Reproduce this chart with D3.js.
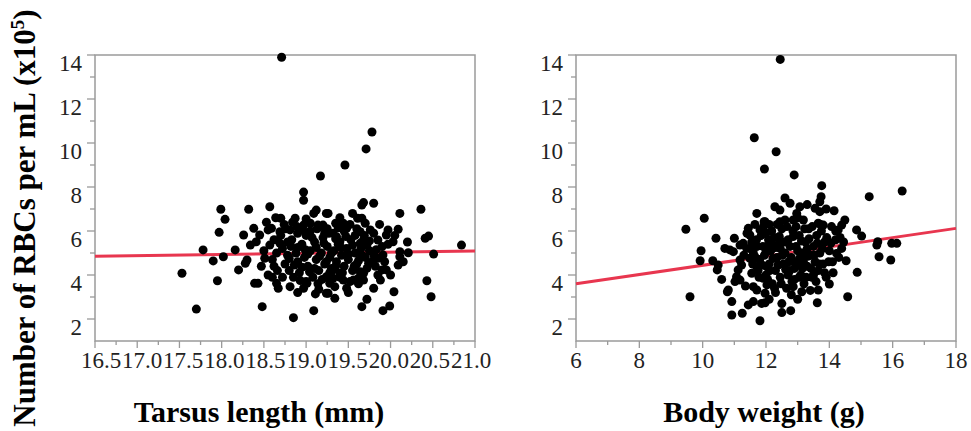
<!DOCTYPE html>
<html>
<head>
<meta charset="utf-8">
<script src="https://cdn.jsdelivr.net/npm/d3@7"></script>
<style>
  body { margin: 0; background: #fff; }
</style>
</head>
<body>
<div id="vis"></div>
<script>
// y axis shared by both panels
const yTicks = [2, 4, 6, 8, 10, 12, 14];
const yMinor = [3, 5, 7, 9, 11, 13];

// tarsus panel
const tarsusTicks = [16.5, 17.0, 17.5, 18.0, 18.5, 19.0, 19.5, 20.0, 20.5, 21.0];
const tarsusMinor = [16.75, 17.25, 17.75, 18.25, 18.75, 19.25, 19.75, 20.25, 20.75];
const tarsusFit = [[16.5, 4.85], [21.0, 5.09]];
const tarsusPts = [
  [17.99,6.99],[18.32,6.99],[18.57,7.10],[18.04,6.53],[17.97,5.94],[18.26,5.82],[18.38,6.12],[18.45,5.82],
  [18.55,6.05],[18.59,6.12],[18.34,5.36],[18.41,5.51],[18.57,5.36],[17.78,5.14],[18.16,5.14],[18.02,4.83],
  [17.90,4.64],[18.30,4.68],[18.28,4.53],[18.51,4.76],[18.20,4.23],[17.53,4.08],[17.95,3.74],[18.39,3.62],
  [18.43,3.62],[18.55,4.00],[18.65,3.62],[18.67,3.40],[17.70,2.45],[18.48,2.56],[18.85,2.06],[19.09,2.38],
  [19.11,3.14],[18.81,3.47],[18.97,3.40],[19.01,3.62],[19.24,3.17],
  [18.71,13.9],[19.78,10.5],[19.71,9.73],[19.46,9.0],[19.17,8.5],[18.97,7.77],[18.97,7.40],
  [18.70,6.58],[18.87,6.58],[19.12,6.95],[19.09,6.80],[19.24,6.80],[18.69,5.97],[18.81,6.05],[18.89,6.20],
  [18.97,6.27],[19.05,6.35],[19.14,6.27],[19.20,6.27],[18.69,5.44],
  [19.66,7.18],[19.68,7.29],[19.80,7.26],[19.26,6.80],[20.11,6.80],[20.36,6.99],[19.35,6.35],[19.44,6.35],
  [19.48,6.12],[19.61,6.58],[19.66,6.58],[19.70,6.35],[19.76,6.05],[19.80,5.90],[19.97,6.05],[19.95,5.82],
  [20.09,6.08],[20.41,5.67],[20.45,5.77],[20.84,5.36],[20.03,5.51],[19.20,6.20],[19.22,5.90],[19.32,5.90],
  [19.36,5.74],[19.40,5.51],[19.64,5.97],[19.68,5.59],[19.72,5.36],[19.64,5.44],[19.85,5.59],[19.90,5.29],
  [19.91,4.91],[19.80,4.91],[19.85,4.76],[20.11,5.06],[20.11,4.83],[20.09,4.45],[20.21,5.01],[20.51,4.95],
  [19.74,4.53],[19.90,4.23],[19.95,4.23],[19.85,4.00],[19.88,3.77],[19.56,3.77],[19.62,3.85],[19.68,4.08],
  [19.68,3.77],[19.64,4.15],[19.40,4.08],[19.44,3.77],[19.32,4.23],[19.24,3.92],[19.28,3.62],[19.34,3.47],
  [19.48,3.40],[20.43,3.74],[20.04,3.24],[19.26,3.17],[19.34,2.94],[19.72,2.90],[19.66,2.56],[19.99,2.59],
  [19.91,2.38],[20.48,3.01],
  [18.72,5.2],[18.78,4.9],[18.75,4.5],[18.8,4.2],[18.83,5.6],[18.88,5.0],[18.9,4.6],[18.92,4.1],
  [18.95,5.4],[18.98,4.8],[19.0,5.8],[19.02,4.4],[19.05,5.1],[19.08,3.9],[19.1,5.5],[19.12,4.7],
  [19.15,4.2],[19.18,5.0],[19.2,5.7],[19.22,4.5],[19.25,5.3],[19.28,4.8],[19.3,4.3],[19.33,5.1],
  [19.36,4.6],[19.38,5.4],[19.42,4.9],[19.45,4.4],[19.48,5.2],[19.5,4.7],[19.53,5.6],[19.55,4.2],
  [19.58,5.0],[19.6,4.5],[18.7,5.8],[18.76,6.1],[18.85,3.9],[18.9,5.9],[19.0,3.7],[19.05,6.0],
  [19.14,3.6],[19.25,6.1],[19.4,3.9],[19.45,6.0],[19.52,3.7],[18.62,4.4],[18.65,5.0],[18.6,4.7],
  [19.7,4.8],[19.75,5.1],[19.65,5.2],[19.82,4.4],[19.58,5.8],[18.82,5.3],[19.12,5.25],[19.35,5.65],
  [18.95,4.35],[19.62,4.65],[19.0,5.05],[19.28,4.1],
  [18.62,5.6],[18.66,4.2],[18.72,3.9],[18.74,6.3],[18.78,5.5],[18.8,4.75],[18.84,6.4],[18.86,4.45],
  [18.9,5.25],[18.93,3.75],[18.96,6.05],[18.99,5.15],[19.02,4.95],[19.04,4.15],[19.07,5.7],[19.1,4.3],
  [19.13,6.1],[19.16,4.85],[19.19,3.8],[19.21,5.45],[19.24,4.6],[19.27,5.9],[19.3,5.0],[19.32,3.85],
  [19.35,4.4],[19.38,6.15],[19.41,5.25],[19.43,4.1],[19.47,5.75],[19.5,4.95],[19.52,6.3],[19.55,5.35],
  [19.57,4.4],[19.6,6.1],[19.62,3.6],[19.66,4.9],[19.69,5.8],[19.72,4.3],[19.75,5.55],[19.78,4.6],
  [19.83,5.15],[19.87,6.3],[19.93,4.6],[19.97,5.4],[20.0,4.0],[20.05,5.8],[20.15,4.6],[20.2,5.5],
  [18.5,5.1],[18.47,4.4],[18.53,6.4],[18.6,3.9],[18.64,6.6],[19.0,6.55],[19.4,6.6],[19.55,6.8],
  [18.9,3.2],[19.15,3.35],[19.5,3.2],[19.8,3.4]
];

// body weight panel
const weightTicks = [6, 8, 10, 12, 14, 16, 18];
const weightMinor = [7, 9, 11, 13, 15, 17];
const weightFit = [[6, 3.6], [18, 6.12]];
const weightPts = [
  [12.45,13.8],[11.63,10.24],[12.32,9.6],[11.95,8.82],[12.89,8.55],[13.76,8.06],
  [10.05,6.58],[9.47,6.08],[10.42,5.67],[9.95,5.10],[9.92,4.65],[10.32,4.65],[10.49,4.45],[10.46,4.23],
  [10.60,3.80],[9.60,3.01],[10.81,3.32],[10.78,3.24],[10.92,2.79],[10.92,2.18],[11.25,2.26],[11.81,1.92],
  [11.44,2.64],[11.60,2.79],[11.0,5.67],[10.70,5.21],[10.86,5.14],[10.97,5.06],[11.18,5.36],[11.28,5.44],
  [11.39,5.21],[11.18,4.68],[11.23,4.45],[11.12,4.23],[11.07,3.92],[11.18,3.77],[11.02,3.70],[11.44,6.12],
  [11.49,5.82],[11.71,6.80],[11.81,6.05],[11.94,6.42],[11.49,4.76],[11.65,4.83],[11.71,4.38],[11.55,4.08],
  [11.60,3.47],[11.71,3.32],[11.91,3.85],[11.97,3.17],[11.86,2.71],[12.02,5.29],[12.02,4.38],
  [13.74,7.56],[13.70,7.33],[15.26,7.56],[16.30,7.82],[12.76,7.26],[12.28,7.10],[12.44,6.95],[13.07,7.10],
  [12.97,6.80],[13.55,7.03],[13.70,6.88],[14.15,6.92],[11.97,6.42],[12.44,6.42],[13.18,6.50],[12.86,6.50],
  [13.65,6.35],[13.81,6.27],[14.07,6.20],[14.49,6.50],[14.39,6.27],[14.28,6.05],[14.86,6.05],[15.02,5.77],
  [14.34,5.71],[14.39,5.21],[14.23,4.98],[15.53,5.51],[15.50,5.36],[15.97,5.44],[16.13,5.44],[15.57,4.83],
  [15.94,4.68],[14.53,4.65],[14.88,4.12],[14.0,3.59],[14.58,3.01],[13.65,3.32],[13.62,2.74],[13.13,3.24],
  [12.86,3.47],[12.78,2.38],[12.50,2.29],[11.97,2.74],
  [11.6,5.0],[11.7,5.6],[11.8,4.7],[11.9,5.3],[12.0,4.0],[12.0,5.9],[12.1,4.5],[12.15,5.1],
  [12.2,3.6],[12.25,5.7],[12.3,4.2],[12.35,4.8],[12.4,5.4],[12.45,3.9],[12.5,6.1],[12.55,4.5],
  [12.6,5.0],[12.65,3.4],[12.7,5.6],[12.75,4.2],[12.8,4.8],[12.85,6.0],[12.9,3.8],[12.95,5.3],
  [13.0,4.5],[13.05,5.8],[13.1,4.0],[13.15,5.0],[13.2,3.6],[13.25,5.5],[13.3,4.4],[13.35,6.1],
  [13.4,4.9],[13.45,3.9],[13.5,5.3],[13.55,4.6],[13.6,5.8],[13.65,4.2],[13.7,5.0],[13.8,4.5],
  [13.85,5.5],[13.9,3.9],[14.0,5.1],[14.1,4.6],[14.2,5.6],[12.1,6.3],[12.6,6.5],[13.0,6.6],
  [12.3,3.2],[12.8,3.1],[13.4,3.3],[11.95,4.9],[12.45,5.2],[12.9,4.6],[13.3,5.2],[13.75,6.0],
  [11.75,4.2],[12.2,5.4],[12.7,4.0],[13.15,4.3],[13.5,4.0],[11.55,5.5],[12.05,3.8],
  [11.5,5.2],[11.58,4.5],[11.65,6.3],[11.72,5.3],[11.78,3.9],[11.85,5.8],[11.88,4.45],[11.92,6.2],
  [12.0,5.05],[12.03,3.55],[12.08,5.6],[12.12,4.2],[12.18,6.0],[12.22,4.75],[12.27,3.4],[12.3,5.25],
  [12.35,6.3],[12.38,4.45],[12.42,5.75],[12.48,3.6],[12.52,4.9],[12.57,5.5],[12.62,4.25],[12.66,6.2],
  [12.72,4.6],[12.76,5.3],[12.82,3.7],[12.86,5.75],[12.9,4.3],[12.95,6.2],[13.0,5.1],[13.05,3.9],
  [13.08,4.8],[13.12,5.55],[13.18,4.6],[13.22,6.1],[13.27,3.9],[13.32,4.85],[13.36,5.65],[13.42,4.3],
  [13.46,6.2],[13.52,4.9],[13.58,3.7],[13.62,5.45],[13.68,4.5],[13.72,6.3],[13.78,5.2],[13.85,4.1],
  [13.92,5.7],[13.98,4.6],[14.05,5.45],[14.12,4.1],[14.2,6.0],[14.3,4.8],[14.45,5.5],[11.3,4.9],
  [11.35,3.5],[11.4,5.9],[12.1,2.9],[12.5,2.7],[13.0,2.9],[12.6,7.5],[13.3,7.2],[13.9,7.0]
];

const W = 971, H = 431;
const plotTop = 55, plotBottom = 341;
const axisColor = "#9a9a9a";
const fitColor = "#e8364f";
const serif = "'Liberation Serif', 'Times New Roman', Times, serif";

const svg = d3.select("#vis")
  .append("svg")
  .attr("width", W)
  .attr("height", H)
  .attr("font-family", serif);

svg.append("rect").attr("width", W).attr("height", H).attr("fill", "#fff");

function drawPanel(opt) {
  const x = d3.scaleLinear().domain(opt.xDomain).range([opt.left, opt.right]);
  const y = d3.scaleLinear().domain([1, 14]).range([plotBottom, plotTop]);
  const g = svg.append("g");

  // frame
  g.append("rect")
    .attr("x", opt.left)
    .attr("y", plotTop)
    .attr("width", opt.right - opt.left)
    .attr("height", plotBottom - plotTop)
    .attr("fill", "none")
    .attr("stroke", axisColor)
    .attr("stroke-width", 1.5);

  // y ticks
  g.selectAll(".ymaj").data(yTicks).enter().append("line")
    .attr("x1", opt.left - 8).attr("x2", opt.left)
    .attr("y1", d => y(d)).attr("y2", d => y(d))
    .attr("stroke", axisColor).attr("stroke-width", 1.3);
  g.selectAll(".ymin").data(yMinor).enter().append("line")
    .attr("x1", opt.left - 5).attr("x2", opt.left)
    .attr("y1", d => y(d)).attr("y2", d => y(d))
    .attr("stroke", axisColor).attr("stroke-width", 1.3);
  g.selectAll(".ylab").data(yTicks).enter().append("text")
    .attr("x", opt.left - 13)
    .attr("y", d => y(d) + 16)
    .attr("text-anchor", "end")
    .attr("font-family", serif)
    .attr("font-size", 23)
    .attr("fill", "#222")
    .text(d => d);

  // x ticks
  g.selectAll(".xmaj").data(opt.xTicks).enter().append("line")
    .attr("x1", d => x(d)).attr("x2", d => x(d))
    .attr("y1", plotBottom).attr("y2", plotBottom + 7)
    .attr("stroke", axisColor).attr("stroke-width", 1.3);
  g.selectAll(".xmin").data(opt.xMinor).enter().append("line")
    .attr("x1", d => x(d)).attr("x2", d => x(d))
    .attr("y1", plotBottom).attr("y2", plotBottom + 4)
    .attr("stroke", axisColor).attr("stroke-width", 1.3);
  g.selectAll(".xlab").data(opt.xTicks).enter().append("text")
    .attr("x", d => x(d) + (opt.labelShift ? opt.labelShift(d) : 0))
    .attr("y", 368)
    .attr("text-anchor", "middle")
    .attr("font-family", serif)
    .attr("font-size", 23)
    .attr("fill", "#222")
    .text(opt.fmt);

  // fitted line
  g.append("path")
    .datum(opt.fit)
    .attr("d", d3.line().x(d => x(d[0])).y(d => y(d[1])))
    .attr("stroke", fitColor)
    .attr("stroke-width", 3)
    .attr("fill", "none");

  g.selectAll(".pt").data(opt.pts).enter().append("circle")
    .attr("cx", d => x(d[0]))
    .attr("cy", d => y(d[1]))
    .attr("r", 4.5)
    .attr("fill", "#000");

  g.append("text")
    .attr("x", opt.titleX)
    .attr("y", 422)
    .attr("text-anchor", "middle")
    .attr("font-family", serif)
    .attr("font-size", 30)
    .attr("font-weight", "bold")
    .attr("fill", "#000")
    .text(opt.title);
}

drawPanel({
  left: 95, right: 475,
  xDomain: [16.5, 21.0],
  xTicks: tarsusTicks, xMinor: tarsusMinor,
  fmt: d => d.toFixed(1),
  labelShift: d => 6 - (d - 16.5) * 2.2,
  fit: tarsusFit, pts: tarsusPts,
  title: "Tarsus length (mm)", titleX: 259
});

drawPanel({
  left: 576, right: 956,
  xDomain: [6, 18],
  xTicks: weightTicks, xMinor: weightMinor,
  fmt: d => d,
  fit: weightFit, pts: weightPts,
  title: "Body weight (g)", titleX: 764
});

// shared y title
const yt = svg.append("text")
  .attr("transform", "translate(35,218) rotate(-90)")
  .attr("text-anchor", "middle")
  .attr("font-family", serif)
  .attr("font-size", 31)
  .attr("font-weight", "bold")
  .attr("fill", "#000");
yt.append("tspan").text("Number of RBCs per mL (x10");
yt.append("tspan").attr("dy", -11).attr("font-size", 19).text("5");
yt.append("tspan").attr("dy", 11).text(")");
</script>
</body>
</html>
